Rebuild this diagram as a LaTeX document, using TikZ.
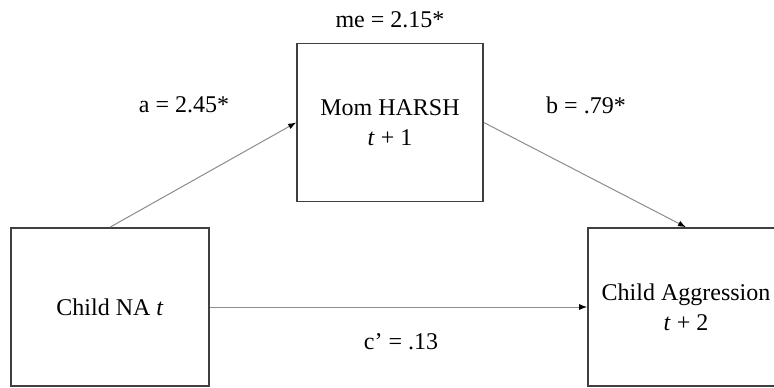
\documentclass[tikz,border=0pt]{standalone}
\usepackage{fontspec}
\setmainfont{Liberation Serif}
\usetikzlibrary{arrows.meta}

\begin{document}
\begin{tikzpicture}[x=1pt,y=-1pt]
        \tikzset{box/.style = {shape=rectangle,draw=black!75,line width=1.6pt,minimum height=158pt,align=center,font=\fontsize{24}{30}\selectfont}};
        \tikzset{edge/.style = {draw=black!45,line width=1pt,-{Latex[length=8pt,width=6pt,black]}}};
        \tikzset{coef/.style = {font=\fontsize{24}{30}\selectfont}};
        \clip (0,0) rectangle (774,388);
        % the three variables
        \node[box,minimum width=198pt] (na) at (110,307) {Child NA \textit{t}};
        \node[box,minimum width=186pt] (harsh) at (390,122.5) {Mom HARSH\\\textit{t} + 1};
        \node[box,minimum width=196pt] (aggr) at (686,307) {Child Aggression\\\textit{t} + 2};
        % paths
        \draw[edge] (na.north) -- (harsh.west);
        \draw[edge] (harsh.east) -- (aggr.north);
        \draw[edge] (na.east) -- (aggr.west);
        % coefficients
        \node[coef] (me) at (390,20) {me = 2.15*};
        \node[coef] (pa) at (184,105) {a = 2.45*};
        \node[coef] (pb) at (586,105) {b = .79*};
        \node[coef] (pc) at (401,342) {c’ = .13};
    \end{tikzpicture}
\end{document}
